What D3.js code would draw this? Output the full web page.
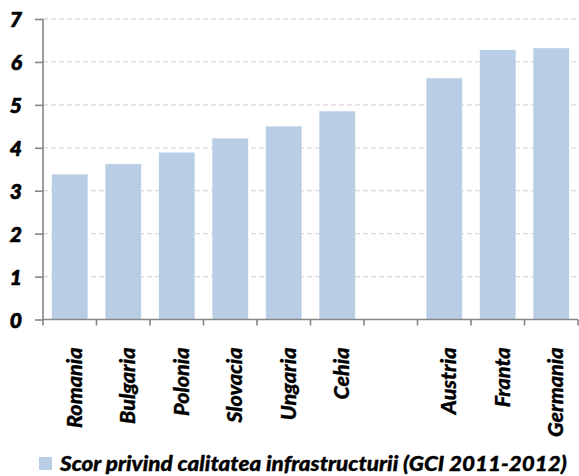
<!DOCTYPE html>
<html>
<head>
<meta charset="utf-8">
<script src="https://cdn.jsdelivr.net/npm/d3@7"></script>
<style>
  html, body { margin: 0; padding: 0; background: #fff; }
  svg { display: block; }
  text { font-family: "Lato", "DejaVu Sans", sans-serif; font-style: italic; font-weight: 900; fill: #000; stroke: #000; stroke-width: 0.35px; }
</style>
</head>
<body>
<svg id="chart" width="579" height="476"></svg>
<script>
// Infrastructure quality score, GCI 2011-2012 ("" is a spacer column)
const categories = ["Romania", "Bulgaria", "Polonia", "Slovacia", "Ungaria", "Cehia", "", "Austria", "Franta", "Germania"];
const scores = [3.38, 3.62, 3.89, 4.22, 4.50, 4.85, null, 5.62, 6.28, 6.32];
const yTicks = [0, 1, 2, 3, 4, 5, 6, 7];
const legendLabel = "Scor privind calitatea infrastructurii (GCI 2011-2012)";

const data = categories.map((c, i) => ({ cat: c, key: "c" + i, value: scores[i] }));

const svg = d3.select("#chart");
const plotLeft = 43, plotRight = 578, plotTop = 19, plotBottom = 319.5;
const barColor = "#b9cde5";
const axisColor = "#868686";

const x = d3.scaleBand().domain(data.map(d => d.key)).range([plotLeft, plotRight]).padding(0);
const y = d3.scaleLinear().domain([0, 7]).range([plotBottom, plotTop]);
const inset = x.bandwidth() * 0.165;

// dashed gridlines
svg.append("g").selectAll("line").data(yTicks.filter(t => t > 0)).join("line")
  .attr("x1", plotLeft).attr("x2", plotRight)
  .attr("y1", d => y(d)).attr("y2", d => y(d))
  .attr("stroke", "#d9d9d9").attr("stroke-width", 1.3)
  .attr("stroke-dasharray", "5,3");

// bars
svg.append("g").selectAll("rect").data(data.filter(d => d.value != null)).join("rect")
  .attr("x", d => x(d.key) + inset)
  .attr("width", x.bandwidth() - 2 * inset)
  .attr("y", d => y(d.value))
  .attr("height", d => y(0) - y(d.value))
  .attr("fill", barColor);

// y axis
const yAxis = svg.append("g").attr("transform", `translate(${plotLeft},0)`)
  .call(d3.axisLeft(y).tickValues(yTicks).tickSize(8).tickPadding(13).tickFormat(d3.format("d")));
yAxis.select(".domain").attr("stroke", axisColor).attr("stroke-width", 1.6).attr("d", `M0,${plotTop}V${plotBottom}`);
yAxis.selectAll(".tick line").attr("stroke", axisColor).attr("stroke-width", 1.6);
yAxis.selectAll(".tick text").style("font-size", "21px").style("stroke-width", "0.7px").attr("dy", "0.36em");

// x axis: ticks at category boundaries
const xAxis = svg.append("g").attr("transform", `translate(0,${plotBottom})`);
xAxis.append("line").attr("x1", plotLeft).attr("x2", plotRight).attr("y1", 0).attr("y2", 0)
  .attr("stroke", axisColor).attr("stroke-width", 1.6);
const bounds = data.map(d => x(d.key)).concat([plotRight]);
xAxis.selectAll("line.tk").data(bounds).join("line").attr("class", "tk")
  .attr("x1", d => d).attr("x2", d => d).attr("y1", 0).attr("y2", 6)
  .attr("stroke", axisColor).attr("stroke-width", 1.6);
xAxis.selectAll("text").data(data.filter(d => d.cat)).join("text")
  .attr("transform", d => `translate(${x(d.key) + x.bandwidth() / 2 + 12},28) rotate(-90)`)
  .attr("text-anchor", "end")
  .style("font-size", "21.5px")
  .text(d => d.cat);

// legend
const legend = svg.append("g");
legend.append("rect").attr("x", 39).attr("y", 457).attr("width", 13).attr("height", 13).attr("fill", barColor);
const lt = legend.append("text").attr("x", 0).attr("y", 0).style("font-size", "21.5px").text(legendLabel);
const w = lt.node().getComputedTextLength();
lt.attr("transform", `translate(60,471) scale(${(507 / w).toFixed(4)},1)`);
</script>
</body>
</html>
